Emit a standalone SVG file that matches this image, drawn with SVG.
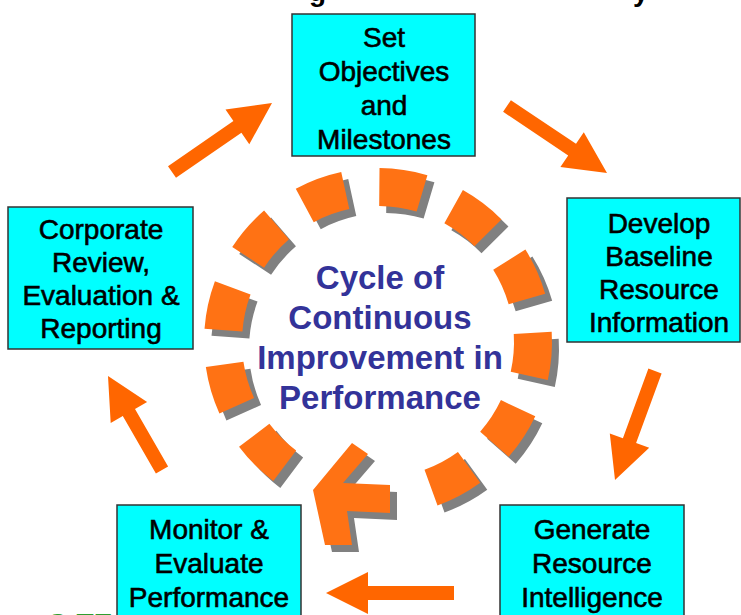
<svg xmlns="http://www.w3.org/2000/svg" xmlns:xlink="http://www.w3.org/1999/xlink" width="741" height="615" viewBox="0 0 741 615">
  <style>
    .box rect { fill: #00FFFF; stroke: #333333; stroke-width: 1.5; }
    .box text { font-family: "Liberation Sans", Arial, sans-serif; font-size: 28px; fill: #000; stroke: #000; stroke-width: 0.6; text-anchor: middle; }
    .title { font-family: "Liberation Sans", Arial, sans-serif; font-size: 28px; font-weight: bold; fill: #000; }
    .footer { font-family: "Liberation Sans", Arial, sans-serif; font-size: 28px; font-weight: bold; fill: #2E9E2E; }
    .center { font-family: "Liberation Sans", Arial, sans-serif; font-size: 33px; font-weight: bold; fill: #333399; text-anchor: middle; }
    .arrow { fill: #FF6600; }
    .ringO { fill: none; stroke: #FF7214; stroke-width: 38; }
    .ringS { fill: none; stroke: #808080; stroke-width: 38; }
  </style>
  <defs>
    <path id="seg" d="M356.43,188.51 A155,155 0 0 1 399.57,188.51"/>
    <g id="ringSegs">
      <use xlink:href="#seg" href="#seg" transform="rotate(8.5 378 342)"/>
      <use xlink:href="#seg" href="#seg" transform="rotate(37.2 378 342)"/>
      <use xlink:href="#seg" href="#seg" transform="rotate(65.9 378 342)"/>
      <use xlink:href="#seg" href="#seg" transform="rotate(94.6 378 342)"/>
      <use xlink:href="#seg" href="#seg" transform="rotate(123.3 378 342)"/>
      <use xlink:href="#seg" href="#seg" transform="rotate(152 378 342)"/>
      <use xlink:href="#seg" href="#seg" transform="rotate(225 378 342)"/>
      <use xlink:href="#seg" href="#seg" transform="rotate(253.7 378 342)"/>
      <use xlink:href="#seg" href="#seg" transform="rotate(282.4 378 342)"/>
      <use xlink:href="#seg" href="#seg" transform="rotate(311.1 378 342)"/>
      <use xlink:href="#seg" href="#seg" transform="rotate(339.8 378 342)"/>
    </g>
    <polygon id="ringHead" points="313,490 352,443 368,454 343,483 390,485 390,513 347,511 352,545 325,545"/>
  </defs>

  <rect width="741" height="615" fill="#FFFFFF"/>

  <!-- cut-off title fragments -->
  <text class="title" x="309" y="0.5">g</text>
  <text class="title" x="633" y="0.5">y</text>

  <!-- cut-off footer fragment -->
  <text class="footer" x="47" y="633">C-TE</text>

  <!-- central ring -->
  <g id="cycle-ring">
    <g class="ringS" transform="translate(7 7)"><use xlink:href="#ringSegs" href="#ringSegs"/></g>
    <use xlink:href="#ringHead" href="#ringHead" fill="#808080" transform="translate(7 7)"/>
    <g class="ringO"><use xlink:href="#ringSegs" href="#ringSegs"/></g>
    <use xlink:href="#ringHead" href="#ringHead" fill="#FF7214"/>
  </g>

  <g id="center-label">
    <text class="center" x="380" y="289">Cycle of</text>
    <text class="center" x="380" y="329">Continuous</text>
    <text class="center" x="380" y="369">Improvement in</text>
    <text class="center" x="380" y="409">Performance</text>
  </g>

  <!-- connectors -->
  <g id="connectors">
    <polygon class="arrow" points="510.9,100.2 576.0,143.8 583.8,132.2 607,173 560.4,167.0 568.2,155.4 503.1,111.8"/>
    <polygon class="arrow" points="648.4,368.6 622.9,438.2 609.8,433.4 615,480 649.2,447.8 636.1,443.0 661.6,373.4"/>
    <polygon class="arrow" points="454,586 368,586 368,572 326,593 368,614 368,600 454,600"/>
    <polygon class="arrow" points="168.1,466.5 135.0,408.9 147.1,401.9 108,376 110.7,422.9 122.8,415.9 155.9,473.5"/>
    <polygon class="arrow" points="168.0,166.2 233.4,121.1 225.5,109.6 272,103 249.3,144.2 241.4,132.7 176.0,177.8"/>
  </g>

  <g id="node-set-objectives" class="box">
    <rect x="292" y="14" width="183" height="142"/>
    <text x="384" y="47">Set</text>
    <text x="384" y="81">Objectives</text>
    <text x="384" y="115">and</text>
    <text x="384" y="149">Milestones</text>
  </g>

  <g id="node-develop-baseline" class="box">
    <rect x="567" y="198" width="173" height="144"/>
    <text x="659" y="233">Develop</text>
    <text x="659" y="266">Baseline</text>
    <text x="659" y="299">Resource</text>
    <text x="659" y="332">Information</text>
  </g>

  <g id="node-generate-intelligence" class="box">
    <rect x="500" y="505" width="184" height="115"/>
    <text x="592" y="539">Generate</text>
    <text x="592" y="573">Resource</text>
    <text x="592" y="607">Intelligence</text>
  </g>

  <g id="node-monitor-evaluate" class="box">
    <rect x="117" y="505" width="184" height="115"/>
    <text x="209" y="539">Monitor &amp;</text>
    <text x="209" y="573">Evaluate</text>
    <text x="209" y="607">Performance</text>
  </g>

  <g id="node-corporate-review" class="box">
    <rect x="8" y="207" width="185" height="142"/>
    <text x="101" y="239">Corporate</text>
    <text x="101" y="272">Review,</text>
    <text x="101" y="305">Evaluation &amp;</text>
    <text x="101" y="338">Reporting</text>
  </g>
</svg>
